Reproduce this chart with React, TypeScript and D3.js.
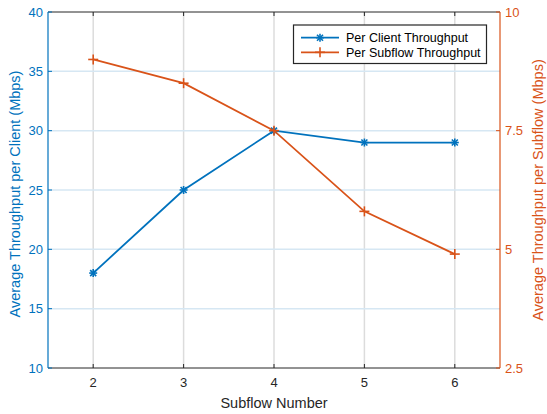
import React from "react";
import * as d3 from "d3";

const subflows = [2, 3, 4, 5, 6];
const perClient = [18, 25, 30, 29, 29];
const perSubflow = [9.0, 8.5, 7.5, 5.8, 4.9];
const leftTicks = [10, 15, 20, 25, 30, 35, 40];
const rightTicks = [2.5, 5, 7.5, 10];
const rightTickLabels = ["2.5", "5", "7.5", "10"];

const BLUE = "#0072BD";
const ORANGE = "#D95319";
const FONT = "'Liberation Sans', Arial, Helvetica, sans-serif";

export default function App() {
  const W = 547, H = 414;
  const L = 48, R = 500, T = 12, B = 368;
  const x = d3.scaleLinear().domain([1.5, 6.5]).range([L, R]);
  const yL = d3.scaleLinear().domain([10, 40]).range([B, T]);
  const yR = d3.scaleLinear().domain([2.5, 10]).range([B, T]);
  const lineL = d3.line<number>().x((_, i) => x(subflows[i])).y((d) => yL(d));
  const lineR = d3.line<number>().x((_, i) => x(subflows[i])).y((d) => yR(d));

  const star = (cx: number, cy: number, key: string | number, s = 4) => (
    <g key={key} stroke={BLUE} strokeWidth={1.6}>
      <line x1={cx - s} y1={cy} x2={cx + s} y2={cy} />
      <line x1={cx} y1={cy - s} x2={cx} y2={cy + s} />
      <line x1={cx - s * 0.75} y1={cy - s * 0.75} x2={cx + s * 0.75} y2={cy + s * 0.75} />
      <line x1={cx - s * 0.75} y1={cy + s * 0.75} x2={cx + s * 0.75} y2={cy - s * 0.75} />
    </g>
  );
  const plus = (cx: number, cy: number, key: string | number, s = 5) => (
    <g key={key} stroke={ORANGE} strokeWidth={1.6}>
      <line x1={cx - s} y1={cy} x2={cx + s} y2={cy} />
      <line x1={cx} y1={cy - s} x2={cx} y2={cy + s} />
    </g>
  );

  return (
    <svg width={W} height={H} style={{ position: "absolute", left: 0, top: 0, fontFamily: FONT }}>
      <rect x={0} y={0} width={W} height={H} fill="#fff" />
      {/* grid */}
      {subflows.map((v) => (
        <line key={"gx" + v} x1={x(v)} x2={x(v)} y1={T} y2={B} stroke="#dcdcdc" strokeWidth={1.5} />
      ))}
      {leftTicks.slice(1, -1).map((v) => (
        <line key={"gy" + v} x1={L} x2={R} y1={yL(v)} y2={yL(v)} stroke="#d6e7f3" strokeWidth={1.5} />
      ))}
      {/* box */}
      <line x1={L} x2={R} y1={T} y2={T} stroke="#262626" strokeWidth={1} />
      <line x1={L} x2={R} y1={B} y2={B} stroke="#262626" strokeWidth={1} />
      {/* x ticks */}
      {subflows.map((v) => (
        <g key={"xt" + v}>
          <line x1={x(v)} x2={x(v)} y1={B} y2={B - 4} stroke="#262626" />
          <line x1={x(v)} x2={x(v)} y1={T} y2={T + 4} stroke="#262626" />
          <text x={x(v)} y={B + 19} textAnchor="middle" fontSize={13} fill="#262626">{v}</text>
        </g>
      ))}
      <text x={(L + R) / 2} y={B + 40} textAnchor="middle" fontSize={14.5} fill="#262626">Subflow Number</text>
      {/* left axis */}
      <line x1={L} x2={L} y1={T} y2={B} stroke={BLUE} strokeWidth={1.2} />
      {leftTicks.map((v) => (
        <g key={"yl" + v}>
          <line x1={L} x2={L + 4} y1={yL(v)} y2={yL(v)} stroke={BLUE} />
          <text x={L - 5} y={yL(v) + 4.5} textAnchor="end" fontSize={13} fill={BLUE}>{v}</text>
        </g>
      ))}
      <text transform={`translate(20,${(T + B) / 2 + 4}) rotate(-90)`} textAnchor="middle" fontSize={14.5} fill={BLUE}>
        Average Throughput per Client (Mbps)
      </text>
      {/* right axis */}
      <line x1={R} x2={R} y1={T} y2={B} stroke={ORANGE} strokeWidth={1.2} />
      {rightTicks.map((v, i) => (
        <g key={"yr" + v}>
          <line x1={R} x2={R - 4} y1={yR(v)} y2={yR(v)} stroke={ORANGE} />
          <text x={R + 5} y={yR(v) + 4.5} textAnchor="start" fontSize={13} fill={ORANGE}>{rightTickLabels[i]}</text>
        </g>
      ))}
      <text transform={`translate(543,${(T + B) / 2}) rotate(-90)`} textAnchor="middle" fontSize={14.5} fill={ORANGE}>
        Average Throughput per Subflow (Mbps)
      </text>
      {/* series */}
      <path d={lineL(perClient) || ""} fill="none" stroke={BLUE} strokeWidth={1.8} />
      {perClient.map((v, i) => star(x(subflows[i]), yL(v), "s" + i))}
      <path d={lineR(perSubflow) || ""} fill="none" stroke={ORANGE} strokeWidth={1.8} />
      {perSubflow.map((v, i) => plus(x(subflows[i]), yR(v), "p" + i))}
      {/* legend */}
      <rect x={293.5} y={25} width={193} height={38.5} fill="#fff" stroke="#262626" strokeWidth={1.2} />
      <line x1={301} x2={339} y1={37.7} y2={37.7} stroke={BLUE} strokeWidth={1.8} />
      {star(320, 37.7, "ls")}
      <text x={346} y={42} fontSize={12.5} fill="#000">Per Client Throughput</text>
      <line x1={301} x2={339} y1={52.3} y2={52.3} stroke={ORANGE} strokeWidth={1.8} />
      {plus(320, 52.3, "lp")}
      <text x={346} y={56.6} fontSize={12.5} fill="#000">Per Subflow Throughput</text>
    </svg>
  );
}
